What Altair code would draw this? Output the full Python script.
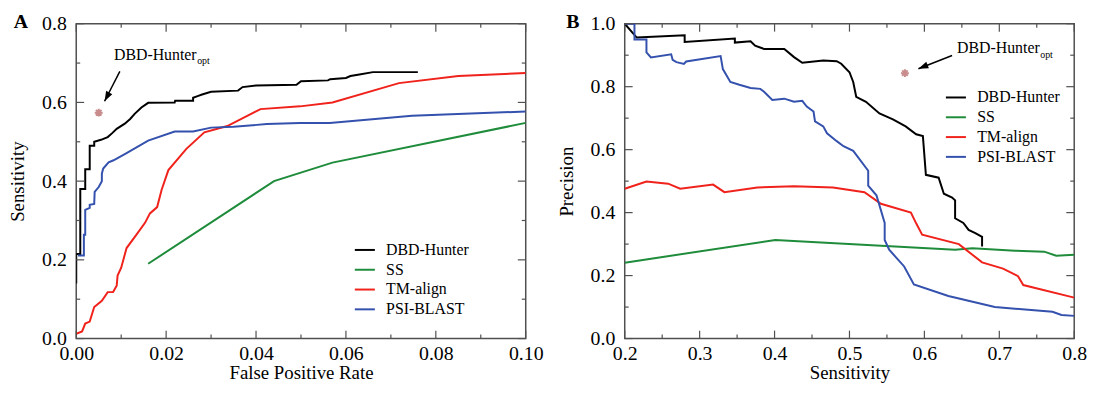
import altair as alt
import pandas as pd

FONT = "Liberation Serif"
SERIES = ["DBD-Hunter", "SS", "TM-align", "PSI-BLAST"]
COLORS = ["#000000", "#1f8c3b", "#f0221c", "#3451ad"]

# ---------------- Panel A : Sensitivity vs False Positive Rate ----------------
A_DBD_X = [0, 0, 0.0009, 0.0009, 0.002, 0.002, 0.003, 0.003, 0.004, 0.004, 0.0055, 0.007,
           0.008, 0.009, 0.0108, 0.012, 0.013, 0.0145, 0.016, 0.0219, 0.022, 0.026, 0.026,
           0.027, 0.028, 0.030, 0.036, 0.037, 0.040, 0.049, 0.050, 0.056, 0.0565, 0.060,
           0.061, 0.063, 0.066, 0.076]
A_DBD_Y = [0.14, 0.215, 0.215, 0.38, 0.38, 0.43, 0.43, 0.49, 0.49, 0.50, 0.505, 0.512,
           0.522, 0.533, 0.546, 0.558, 0.571, 0.587, 0.599, 0.600, 0.604, 0.604, 0.612,
           0.616, 0.620, 0.627, 0.630, 0.639, 0.643, 0.645, 0.654, 0.656, 0.659, 0.662,
           0.667, 0.671, 0.677, 0.677]
A_SS_X = [0.016, 0.044, 0.057, 0.100]
A_SS_Y = [0.190, 0.400, 0.447, 0.548]
A_TM_X = [0, 0.0013, 0.002, 0.003, 0.004, 0.0057, 0.007, 0.0082, 0.009, 0.0092, 0.010,
          0.0112, 0.0134, 0.0153, 0.0164, 0.018, 0.019, 0.0205, 0.0245, 0.0285, 0.0336,
          0.041, 0.0498, 0.057, 0.0718, 0.085, 0.100]
A_TM_Y = [0.012, 0.018, 0.038, 0.043, 0.080, 0.096, 0.118, 0.118, 0.134, 0.160, 0.180,
          0.230, 0.264, 0.294, 0.318, 0.334, 0.378, 0.428, 0.482, 0.524, 0.540, 0.583,
          0.590, 0.600, 0.649, 0.667, 0.675]
A_PSI_X = [0.0004, 0.0017, 0.0017, 0.002, 0.002, 0.003, 0.003, 0.004, 0.0041, 0.005,
           0.0057, 0.0057, 0.006, 0.0072, 0.0083, 0.011, 0.016, 0.0219, 0.026, 0.030,
           0.035, 0.0424, 0.0497, 0.0564, 0.0747, 0.100]
A_PSI_Y = [0.211, 0.211, 0.264, 0.264, 0.327, 0.332, 0.340, 0.342, 0.373, 0.385, 0.400,
           0.419, 0.432, 0.448, 0.453, 0.470, 0.503, 0.526, 0.526, 0.536, 0.538, 0.545,
           0.548, 0.548, 0.566, 0.577]

# ---------------- Panel B : Precision vs Sensitivity ----------------
B_DBD_X = [0.2, 0.216, 0.28, 0.28, 0.347, 0.347, 0.368, 0.374, 0.386, 0.413, 0.426, 0.437,
           0.465, 0.483, 0.489, 0.5, 0.505, 0.509, 0.522, 0.54, 0.558, 0.575, 0.589, 0.598,
           0.602, 0.619, 0.626, 0.637, 0.641, 0.641, 0.652, 0.659, 0.668, 0.677, 0.677]
B_DBD_Y = [1.0, 0.956, 0.963, 0.942, 0.953, 0.94, 0.944, 0.93, 0.92, 0.92, 0.894, 0.876,
           0.883, 0.881, 0.873, 0.846, 0.815, 0.768, 0.752, 0.715, 0.696, 0.674, 0.649, 0.643,
           0.52, 0.511, 0.46, 0.448, 0.439, 0.382, 0.367, 0.345, 0.335, 0.323, 0.292]
B_SS_X = [0.2, 0.401, 0.456, 0.641, 0.664, 0.721, 0.76, 0.776, 0.8]
B_SS_Y = [0.241, 0.313, 0.306, 0.282, 0.287, 0.279, 0.276, 0.263, 0.266]
B_TM_X = [0.2, 0.229, 0.258, 0.274, 0.318, 0.333, 0.377, 0.426, 0.478, 0.52, 0.542, 0.582,
          0.589, 0.597, 0.646, 0.677, 0.705, 0.725, 0.732, 0.8]
B_TM_Y = [0.476, 0.499, 0.492, 0.476, 0.489, 0.465, 0.48, 0.484, 0.48, 0.465, 0.428, 0.40,
          0.366, 0.33, 0.30, 0.242, 0.222, 0.198, 0.17, 0.13]
B_PSI_X = [0.2, 0.213, 0.213, 0.229, 0.229, 0.235, 0.262, 0.264, 0.269, 0.279, 0.282, 0.328,
           0.331, 0.341, 0.353, 0.368, 0.381, 0.386, 0.397, 0.413, 0.426, 0.437, 0.443, 0.452,
           0.454, 0.465, 0.47, 0.483, 0.492, 0.505, 0.525, 0.525, 0.536, 0.547, 0.547, 0.553,
           0.573, 0.586, 0.632, 0.694, 0.771, 0.783, 0.8]
B_PSI_Y = [1.0, 1.0, 0.95, 0.95, 0.909, 0.893, 0.903, 0.885, 0.878, 0.872, 0.88, 0.897,
           0.856, 0.815, 0.806, 0.796, 0.793, 0.784, 0.758, 0.762, 0.752, 0.755, 0.737, 0.721,
           0.69, 0.674, 0.652, 0.627, 0.611, 0.596, 0.533, 0.486, 0.455, 0.367, 0.313, 0.282,
           0.229, 0.172, 0.135, 0.10, 0.085, 0.075, 0.072]

# Annotations: optimum point, arrow (start -> tip), label anchor
A_OPT = (0.005, 0.574)
A_ARROW_X = [0.0097, 0.0063]
A_ARROW_Y = [0.679, 0.603]
A_LABEL = (0.0084, 0.709)
B_OPT = (0.574, 0.843)
B_ARROW_X = [0.637, 0.592]
B_ARROW_Y = [0.899, 0.857]
B_LABEL = (0.6436, 0.906)

# Axis ticks / labels
A_XLABELS = [0, 0.02, 0.04, 0.06, 0.08, 0.10]
A_XMINOR = [0.01, 0.03, 0.05, 0.07, 0.09]
A_YLABELS = [0, 0.2, 0.4, 0.6, 0.8]
A_YMINOR = [0.1, 0.3, 0.5, 0.7]
B_XLABELS = [0.2, 0.3, 0.4, 0.5, 0.6, 0.7, 0.8]
B_XMINOR = [0.25, 0.35, 0.45, 0.55, 0.65, 0.75]
B_YLABELS = [0, 0.2, 0.4, 0.6, 0.8, 1.0]
B_YMINOR = [0.1, 0.3, 0.5, 0.7, 0.9]

W, H = 454, 318
AXIS_GRAY = "#505050"
MAJOR, MINOR = 8, 4
ASTERISK = "M-1,0L1,0M0,-1L0,1M-0.7,-0.7L0.7,0.7M-0.7,0.7L0.7,-0.7"
HEAD = "M0,0L-0.7,2L0.7,2Z"


def long_df(pairs):
    rows = []
    for name, xs, ys in pairs:
        for i, (x, y) in enumerate(zip(xs, ys)):
            rows.append({"series": name, "x": x, "y": y, "i": i})
    return pd.DataFrame(rows)


def panel(df, xdom, ydom, xlabels, xminor, ylabels, yminor, xfmt, yfmt,
          xtitle, ytitle, letter, letter_dx, lx, ly, opt, arrow_x, arrow_y, label, head_angle):
    xs = alt.Scale(domain=xdom, nice=False, zero=False)
    ys = alt.Scale(domain=ydom, nice=False, zero=False)
    lines = alt.Chart(df).mark_line(strokeWidth=2, clip=True).encode(
        x=alt.X("x:Q", scale=xs, title=xtitle,
                axis=alt.Axis(values=xlabels, format=xfmt, ticks=False, grid=False,
                              domain=False, labelPadding=5, titlePadding=0, labelFlush=False)),
        y=alt.Y("y:Q", scale=ys, title=ytitle,
                axis=alt.Axis(values=ylabels, format=yfmt, ticks=False, grid=False,
                              domain=False, labelPadding=10, titlePadding=14, labelFlush=False)),
        color=alt.Color("series:N", scale=alt.Scale(domain=SERIES, range=COLORS),
                        legend=alt.Legend(title=None, orient="none", legendX=lx, legendY=ly,
                                          symbolType="stroke", symbolStrokeWidth=2,
                                          symbolSize=410, labelFont=FONT, labelFontSize=16,
                                          rowPadding=0, labelOffset=10, padding=0)),
        order="i:Q",
    )
    # inward tick marks on all four sides (major and minor)
    ticks = []
    for vals, ln in ((xlabels, MAJOR), (xminor, MINOR)):
        tdf = pd.DataFrame({"v": vals})
        for y0, y1 in ((H, H - ln), (0, ln)):
            ticks.append(alt.Chart(tdf).mark_rule(color=AXIS_GRAY, strokeWidth=1.2).encode(
                x=alt.X("v:Q", scale=xs, axis=None), y=alt.value(y0), y2=alt.value(y1)))
    for vals, ln in ((ylabels, MAJOR), (yminor, MINOR)):
        tdf = pd.DataFrame({"v": vals})
        for x0, x1 in ((0, ln), (W, W - ln)):
            ticks.append(alt.Chart(tdf).mark_rule(color=AXIS_GRAY, strokeWidth=1.2).encode(
                y=alt.Y("v:Q", scale=ys, axis=None), x=alt.value(x0), x2=alt.value(x1)))
    ex = alt.X("x:Q", scale=xs, axis=None)
    ey = alt.Y("y:Q", scale=ys, axis=None)
    star = alt.Chart(pd.DataFrame({"x": [opt[0]], "y": [opt[1]]})).mark_point(
        shape=ASTERISK, size=64, strokeWidth=2, color="#c98c8c", filled=False, opacity=1
    ).encode(x=ex, y=ey)
    shaft = alt.Chart(pd.DataFrame({"x": arrow_x, "y": arrow_y, "i": [0, 1]})).mark_line(
        color="black", strokeWidth=1.5).encode(x=ex, y=ey, order="i:Q")
    head = alt.Chart(pd.DataFrame({"x": [arrow_x[1]], "y": [arrow_y[1]]})).mark_point(
        shape=HEAD, size=100, filled=True, color="black", opacity=1, angle=head_angle
    ).encode(x=ex, y=ey)
    ldf = pd.DataFrame({"x": [label[0]], "y": [label[1]], "t": ["DBD-Hunter"], "s": ["opt"]})
    txt = alt.Chart(ldf).mark_text(align="left", baseline="alphabetic", font=FONT,
                                   fontSize=16, color="black").encode(x=ex, y=ey, text="t:N")
    sub = alt.Chart(ldf).mark_text(align="left", baseline="alphabetic", font=FONT,
                                   fontSize=10, color="black", dx=84, dy=5).encode(x=ex, y=ey, text="s:N")
    ch = alt.layer(lines, *ticks, star, shaft, head, txt, sub).resolve_axis(
        x="independent", y="independent"
    ).properties(
        width=W, height=H,
        title=alt.TitleParams(letter, anchor="start", frame="group", dx=letter_dx, dy=34,
                              font=FONT, fontSize=20, fontWeight="bold", baseline="alphabetic",
                              offset=0, color="black"),
    )
    return ch


dfA = long_df([("DBD-Hunter", A_DBD_X, A_DBD_Y), ("SS", A_SS_X, A_SS_Y),
               ("TM-align", A_TM_X, A_TM_Y), ("PSI-BLAST", A_PSI_X, A_PSI_Y)])
dfB = long_df([("DBD-Hunter", B_DBD_X, B_DBD_Y), ("SS", B_SS_X, B_SS_Y),
               ("TM-align", B_TM_X, B_TM_Y), ("PSI-BLAST", B_PSI_X, B_PSI_Y)])

chartA = panel(dfA, [0, 0.1], [0, 0.8], A_XLABELS, A_XMINOR, A_YLABELS, A_YMINOR, ".2f", ".1f",
               "False Positive Rate", "Sensitivity", "A", -63, 280, 217,
               A_OPT, A_ARROW_X, A_ARROW_Y, A_LABEL, 208)
chartB = panel(dfB, [0.2, 0.8], [0, 1.0], B_XLABELS, B_XMINOR, B_YLABELS, B_YMINOR, ".1f", ".1f",
               "Sensitivity", "Precision", "B", -59, 323, 63,
               B_OPT, B_ARROW_X, B_ARROW_Y, B_LABEL, 248)

chart = alt.hconcat(chartA, chartB, spacing=100, bounds="flush").resolve_scale(
    color="independent"
).properties(
    padding={"left": 8, "top": 9, "right": 8, "bottom": 4},
    background="white",
).configure_view(
    stroke=AXIS_GRAY, strokeWidth=1.5
).configure_axis(
    labelFont=FONT, labelFontSize=20, labelColor="black",
    titleFont=FONT, titleFontSize=19, titleFontWeight="normal", titleColor="black",
)

chart.save("out.html", embed_options={"renderer": "svg", "actions": False})
